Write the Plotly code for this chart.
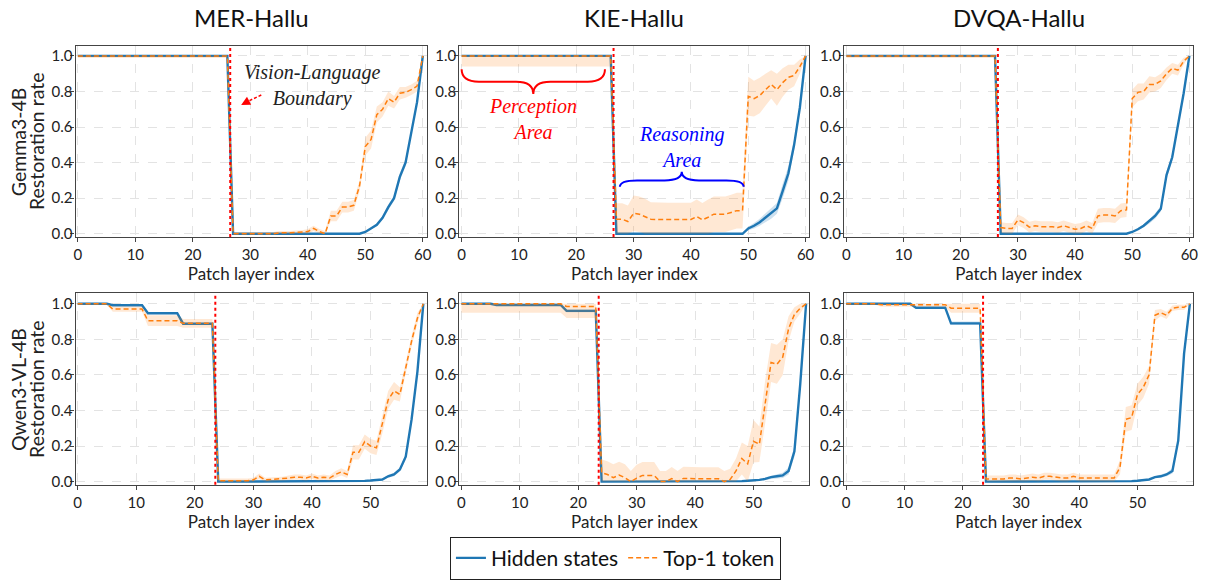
import plotly.graph_objects as go

# ---------------- data ----------------
gemma_layers = list(range(61))
qwen_layers = list(range(60))

gemma_mer_hidden = [1, 1, 1, 1, 1, 1, 1, 1, 1, 1,
                    1, 1, 1, 1, 1, 1, 1, 1, 1, 1,
                    1, 1, 1, 1, 1, 1, 1, 0, 0, 0,
                    0, 0, 0, 0, 0, 0, 0, 0, 0, 0,
                    0, 0, 0, 0, 0, 0, 0, 0, 0, 0,
                    0.01, 0.03, 0.05, 0.09, 0.15, 0.2, 0.32, 0.4, 0.57, 0.74,
                    1.0]
gemma_mer_hidden_std = [0, 0, 0, 0, 0, 0, 0, 0, 0, 0,
                        0, 0, 0, 0, 0, 0, 0, 0, 0, 0,
                        0, 0, 0, 0, 0, 0, 0, 0, 0, 0,
                        0, 0, 0, 0, 0, 0, 0, 0, 0, 0,
                        0, 0, 0, 0, 0, 0, 0, 0, 0, 0,
                        0.003, 0.005, 0.008, 0.01, 0.015, 0.015, 0.02, 0.02, 0.015, 0.01,
                        0]
gemma_mer_top1 = [1, 1, 1, 1, 1, 1, 1, 1, 1, 1,
                  1, 1, 1, 1, 1, 1, 1, 1, 1, 1,
                  1, 1, 1, 1, 1, 1, 1, 0.0, 0.0, 0.0,
                  0.0, 0.0, 0.0, 0.0, 0.0, 0.005, 0.003, 0.005, 0.008, 0.01,
                  0.012, 0.03, 0.012, 0.0, 0.1, 0.1, 0.15, 0.15, 0.16, 0.27,
                  0.49, 0.53, 0.67, 0.70, 0.76, 0.74, 0.79, 0.795, 0.81, 0.83,
                  1.0]
gemma_mer_top1_std = [0.012, 0.012, 0.012, 0.012, 0.012, 0.012, 0.012, 0.012, 0.012, 0.012,
                      0.012, 0.012, 0.012, 0.012, 0.012, 0.012, 0.012, 0.012, 0.012, 0.012,
                      0.012, 0.012, 0.012, 0.012, 0.012, 0.012, 0.012, 0.01, 0.01, 0.01,
                      0.01, 0.01, 0.01, 0.01, 0.01, 0.01, 0.01, 0.01, 0.01, 0.01,
                      0.015, 0.015, 0.015, 0.015, 0.03, 0.03, 0.03, 0.03, 0.03, 0.03,
                      0.05, 0.05, 0.045, 0.04, 0.04, 0.035, 0.035, 0.03, 0.03, 0.03,
                      0]

gemma_kie_hidden = [1, 1, 1, 1, 1, 1, 1, 1, 1, 1,
                    1, 1, 1, 1, 1, 1, 1, 1, 1, 1,
                    1, 1, 1, 1, 1, 1, 1, 0, 0, 0,
                    0, 0, 0, 0, 0, 0, 0, 0, 0, 0,
                    0, 0, 0, 0, 0, 0, 0, 0, 0, 0,
                    0.03, 0.045, 0.065, 0.09, 0.115, 0.143, 0.24, 0.34, 0.5, 0.71,
                    1.0]
gemma_kie_hidden_std = [0, 0, 0, 0, 0, 0, 0, 0, 0, 0,
                        0, 0, 0, 0, 0, 0, 0, 0, 0, 0,
                        0, 0, 0, 0, 0, 0, 0, 0, 0, 0,
                        0, 0, 0, 0, 0, 0, 0, 0, 0, 0,
                        0, 0, 0, 0, 0, 0, 0, 0, 0, 0,
                        0.01, 0.015, 0.02, 0.025, 0.03, 0.03, 0.04, 0.04, 0.03, 0.02,
                        0]
gemma_kie_top1 = [1, 1, 1, 1, 1, 1, 1, 1, 1, 1,
                  1, 1, 1, 1, 1, 1, 1, 1, 1, 1,
                  1, 1, 1, 1, 1, 1, 1, 0.082, 0.082, 0.069,
                  0.115, 0.11, 0.097, 0.082, 0.08, 0.08, 0.08, 0.08, 0.08, 0.08,
                  0.08, 0.097, 0.078, 0.093, 0.11, 0.11, 0.11, 0.12, 0.13, 0.13,
                  0.773, 0.76, 0.777, 0.81, 0.84, 0.81, 0.85, 0.88, 0.89, 0.94,
                  1.0]
gemma_kie_top1_std = [0.06, 0.06, 0.06, 0.06, 0.06, 0.06, 0.06, 0.06, 0.06, 0.06,
                      0.06, 0.06, 0.06, 0.06, 0.06, 0.06, 0.06, 0.06, 0.06, 0.06,
                      0.06, 0.06, 0.06, 0.06, 0.06, 0.06, 0.06, 0.09, 0.09, 0.09,
                      0.1, 0.1, 0.1, 0.095, 0.095, 0.095, 0.095, 0.095, 0.095, 0.095,
                      0.095, 0.095, 0.095, 0.1, 0.1, 0.1, 0.1, 0.1, 0.1, 0.1,
                      0.11, 0.1, 0.1, 0.09, 0.08, 0.09, 0.08, 0.07, 0.06, 0.04,
                      0]

gemma_dvqa_hidden = [1, 1, 1, 1, 1, 1, 1, 1, 1, 1,
                     1, 1, 1, 1, 1, 1, 1, 1, 1, 1,
                     1, 1, 1, 1, 1, 1, 1, 0, 0, 0,
                     0, 0, 0, 0, 0, 0, 0, 0, 0, 0,
                     0, 0, 0, 0, 0, 0, 0, 0, 0, 0,
                     0.01, 0.025, 0.045, 0.07, 0.1, 0.14, 0.33, 0.43, 0.6, 0.79,
                     1.0]
gemma_dvqa_hidden_std = [0, 0, 0, 0, 0, 0, 0, 0, 0, 0,
                         0, 0, 0, 0, 0, 0, 0, 0, 0, 0,
                         0, 0, 0, 0, 0, 0, 0, 0, 0, 0,
                         0, 0, 0, 0, 0, 0, 0, 0, 0, 0,
                         0, 0, 0, 0, 0, 0, 0, 0, 0, 0,
                         0.003, 0.006, 0.01, 0.012, 0.015, 0.015, 0.02, 0.02, 0.015, 0.01,
                         0]
gemma_dvqa_top1 = [1, 1, 1, 1, 1, 1, 1, 1, 1, 1,
                   1, 1, 1, 1, 1, 1, 1, 1, 1, 1,
                   1, 1, 1, 1, 1, 1, 1, 0.035, 0.03, 0.03,
                   0.078, 0.063, 0.037, 0.045, 0.04, 0.04, 0.04, 0.035, 0.045, 0.035,
                   0.025, 0.03, 0.045, 0.03, 0.1, 0.105, 0.105, 0.1, 0.13, 0.134,
                   0.76, 0.795, 0.80, 0.84, 0.84, 0.86, 0.9, 0.93, 0.92, 0.97,
                   1.0]
gemma_dvqa_top1_std = [0.012, 0.012, 0.012, 0.012, 0.012, 0.012, 0.012, 0.012, 0.012, 0.012,
                       0.012, 0.012, 0.012, 0.012, 0.012, 0.012, 0.012, 0.012, 0.012, 0.012,
                       0.012, 0.012, 0.012, 0.012, 0.012, 0.012, 0.012, 0.03, 0.03, 0.03,
                       0.03, 0.03, 0.03, 0.03, 0.03, 0.03, 0.03, 0.03, 0.03, 0.03,
                       0.03, 0.03, 0.03, 0.03, 0.04, 0.04, 0.04, 0.04, 0.04, 0.04,
                       0.05, 0.05, 0.045, 0.045, 0.04, 0.04, 0.035, 0.03, 0.03, 0.02,
                       0]

qwen_mer_hidden = [1, 1, 1, 1, 1, 1, 0.992, 0.992, 0.992, 0.992,
                   0.992, 0.992, 0.947, 0.947, 0.947, 0.947, 0.947, 0.947, 0.888, 0.888,
                   0.888, 0.888, 0.888, 0.888, 0, 0, 0, 0, 0, 0,
                   0, 0, 0, 0, 0, 0, 0, 0, 0, 0,
                   0, 0, 0, 0, 0, 0, 0, 0, 0.002, 0.004,
                   0.006, 0.008, 0.012, 0.03, 0.04, 0.068, 0.14, 0.35, 0.62, 1.0]
qwen_mer_hidden_std = [0, 0, 0, 0, 0, 0, 0, 0, 0, 0,
                       0, 0, 0.003, 0.003, 0.003, 0.003, 0.003, 0.003, 0.005, 0.005,
                       0.005, 0.005, 0.005, 0.005, 0, 0, 0, 0, 0, 0,
                       0, 0, 0, 0, 0, 0, 0, 0, 0, 0,
                       0, 0, 0, 0, 0, 0, 0, 0, 0, 0,
                       0, 0, 0.005, 0.008, 0.01, 0.01, 0.015, 0.02, 0.015, 0]
qwen_mer_top1 = [1, 1, 1, 1, 1, 1, 0.97, 0.97, 0.97, 0.97,
                 0.97, 0.97, 0.905, 0.905, 0.905, 0.905, 0.905, 0.905, 0.89, 0.89,
                 0.89, 0.89, 0.89, 0.89, 0.005, 0.005, 0.003, 0.003, 0.003, 0.005,
                 0.01, 0.03, 0.01, 0.012, 0.015, 0.015, 0.02, 0.025, 0.025, 0.02,
                 0.03, 0.02, 0.025, 0.02, 0.04, 0.055, 0.04, 0.165, 0.165, 0.225,
                 0.2, 0.19, 0.32, 0.46, 0.51, 0.49, 0.64, 0.79, 0.92, 1.0]
qwen_mer_top1_std = [0.005, 0.005, 0.005, 0.005, 0.005, 0.005, 0.015, 0.015, 0.015, 0.015,
                     0.015, 0.015, 0.03, 0.03, 0.03, 0.03, 0.03, 0.03, 0.025, 0.025,
                     0.025, 0.025, 0.025, 0.025, 0.012, 0.012, 0.012, 0.012, 0.012, 0.012,
                     0.012, 0.015, 0.012, 0.012, 0.012, 0.012, 0.015, 0.015, 0.015, 0.015,
                     0.015, 0.015, 0.015, 0.015, 0.02, 0.02, 0.02, 0.04, 0.04, 0.04,
                     0.04, 0.04, 0.05, 0.05, 0.05, 0.04, 0.03, 0.03, 0.03, 0]

qwen_kie_hidden = [1, 1, 1, 1, 1, 1, 0.993, 0.993, 0.993, 0.993,
                   0.993, 0.993, 0.993, 0.993, 0.993, 0.993, 0.993, 0.993, 0.96, 0.96,
                   0.96, 0.96, 0.96, 0.96, 0, 0, 0, 0, 0, 0,
                   0, 0, 0, 0, 0, 0, 0, 0, 0, 0,
                   0, 0, 0, 0, 0, 0, 0, 0.002, 0.003, 0.005,
                   0.006, 0.01, 0.015, 0.025, 0.03, 0.035, 0.06, 0.17, 0.55, 1.0]
qwen_kie_hidden_std = [0, 0, 0, 0, 0, 0, 0.005, 0.005, 0.005, 0.005,
                       0.005, 0.005, 0.005, 0.005, 0.005, 0.005, 0.005, 0.005, 0.008, 0.008,
                       0.008, 0.008, 0.008, 0.008, 0, 0, 0, 0, 0, 0,
                       0, 0, 0, 0, 0, 0, 0, 0, 0, 0,
                       0, 0, 0, 0, 0, 0, 0, 0, 0, 0,
                       0, 0.005, 0.008, 0.01, 0.012, 0.015, 0.02, 0.03, 0.03, 0]
qwen_kie_top1 = [1, 1, 1, 1, 1, 1, 1, 1, 1, 1,
                 1, 1, 1, 1, 1, 1, 1, 1, 0.985, 0.985,
                 0.985, 0.985, 0.985, 0.985, 0.05, 0.04, 0.022, 0.037, 0.022, 0.0,
                 0.02, 0.035, 0.035, 0.035, 0.0, 0.0, 0.017, 0.0, 0.018, 0.016,
                 0.016, 0.016, 0.016, 0.016, 0.016, 0.0, 0.012, 0.06, 0.13, 0.1,
                 0.227, 0.21, 0.45, 0.67, 0.66, 0.70, 0.86, 0.94, 0.975, 1.0]
qwen_kie_top1_std = [0.05, 0.05, 0.05, 0.05, 0.05, 0.05, 0.05, 0.05, 0.05, 0.05,
                     0.05, 0.05, 0.05, 0.05, 0.05, 0.05, 0.05, 0.05, 0.065, 0.065,
                     0.065, 0.065, 0.065, 0.065, 0.075, 0.075, 0.075, 0.075, 0.075, 0.06,
                     0.075, 0.075, 0.075, 0.075, 0.06, 0.06, 0.065, 0.06, 0.065, 0.065,
                     0.065, 0.065, 0.065, 0.065, 0.065, 0.06, 0.06, 0.07, 0.09, 0.1,
                     0.12, 0.1, 0.12, 0.11, 0.11, 0.1, 0.07, 0.04, 0.03, 0]

qwen_dvqa_hidden = [1, 1, 1, 1, 1, 1, 1, 1, 1, 1,
                    1, 1, 0.978, 0.978, 0.978, 0.978, 0.978, 0.978, 0.89, 0.89,
                    0.89, 0.89, 0.89, 0.89, 0, 0, 0, 0, 0, 0,
                    0, 0, 0, 0, 0, 0, 0, 0, 0, 0,
                    0, 0, 0, 0, 0, 0, 0, 0, 0, 0.003,
                    0.005, 0.008, 0.012, 0.025, 0.03, 0.04, 0.06, 0.23, 0.72, 1.0]
qwen_dvqa_hidden_std = [0, 0, 0, 0, 0, 0, 0, 0, 0, 0,
                        0, 0, 0.004, 0.004, 0.004, 0.004, 0.004, 0.004, 0.01, 0.01,
                        0.01, 0.01, 0.01, 0.01, 0, 0, 0, 0, 0, 0,
                        0, 0, 0, 0, 0, 0, 0, 0, 0, 0,
                        0, 0, 0, 0, 0, 0, 0, 0, 0, 0,
                        0, 0, 0, 0.005, 0.008, 0.01, 0.015, 0.02, 0.02, 0]
qwen_dvqa_top1 = [1, 1, 1, 1, 1, 1, 0.995, 0.995, 0.995, 0.995,
                  0.995, 0.995, 0.995, 0.995, 0.995, 0.995, 0.995, 0.995, 0.975, 0.975,
                  0.975, 0.975, 0.975, 0.975, 0.015, 0.015, 0.015, 0.015, 0.02, 0.02,
                  0.015, 0.02, 0.025, 0.02, 0.03, 0.03, 0.025, 0.02, 0.02, 0.03,
                  0.02, 0.02, 0.02, 0.02, 0.02, 0.02, 0.02, 0.08, 0.35, 0.36,
                  0.49, 0.53, 0.6, 0.935, 0.95, 0.935, 0.975, 0.98, 0.98, 1.0]
qwen_dvqa_top1_std = [0.005, 0.005, 0.005, 0.005, 0.005, 0.005, 0.012, 0.012, 0.012, 0.012,
                      0.012, 0.012, 0.012, 0.012, 0.012, 0.012, 0.012, 0.012, 0.025, 0.025,
                      0.025, 0.025, 0.025, 0.025, 0.02, 0.02, 0.02, 0.02, 0.02, 0.02,
                      0.02, 0.02, 0.02, 0.02, 0.02, 0.02, 0.02, 0.02, 0.02, 0.02,
                      0.02, 0.02, 0.02, 0.02, 0.02, 0.02, 0.02, 0.04, 0.07, 0.07,
                      0.06, 0.06, 0.05, 0.03, 0.02, 0.02, 0.015, 0.015, 0.015, 0]

dataset_titles = ["MER-Hallu", "KIE-Hallu", "DVQA-Hallu"]
model_labels = ["Gemma3-4B", "Qwen3-VL-4B"]
y_label = "Restoration rate"
boundaries = [26.5, 23.5]
xtick_top = [0, 10, 20, 30, 40, 50, 60]
xtick_bottom = [0, 10, 20, 30, 40, 50]
ytick_vals = [0.0, 0.2, 0.4, 0.6, 0.8, 1.0]

panels = [
    (gemma_layers, gemma_mer_hidden, gemma_mer_hidden_std, gemma_mer_top1, gemma_mer_top1_std),
    (gemma_layers, gemma_kie_hidden, gemma_kie_hidden_std, gemma_kie_top1, gemma_kie_top1_std),
    (gemma_layers, gemma_dvqa_hidden, gemma_dvqa_hidden_std, gemma_dvqa_top1, gemma_dvqa_top1_std),
    (qwen_layers, qwen_mer_hidden, qwen_mer_hidden_std, qwen_mer_top1, qwen_mer_top1_std),
    (qwen_layers, qwen_kie_hidden, qwen_kie_hidden_std, qwen_kie_top1, qwen_kie_top1_std),
    (qwen_layers, qwen_dvqa_hidden, qwen_dvqa_hidden_std, qwen_dvqa_top1, qwen_dvqa_top1_std),
]

# ---------------- style / layout ----------------
W, H = 1214, 584
BLUE = "#1f77b4"
ORANGE = "#ff7f0e"
FONT = "Lato"
SERIF = "Liberation Serif"

col_px = [(74, 427), (460, 812), (847, 1198)]
row_px = [(46, 239), (296, 489)]

fig = go.Figure()


def band(m, s):
    up = [min(1.0, a + b) for a, b in zip(m, s)]
    lo = [max(0.0, a - b) for a, b in zip(m, s)]
    return up, lo


for i, (xs, hid, hstd, top, tstd) in enumerate(panels):
    n = i + 1
    suffix = "" if n == 1 else str(n)
    xa, ya = "x" + suffix, "y" + suffix
    up, lo = band(hid, hstd)
    fig.add_trace(go.Scatter(x=xs, y=up, mode="lines", line=dict(width=0), showlegend=False,
                             hoverinfo="skip", xaxis=xa, yaxis=ya))
    fig.add_trace(go.Scatter(x=xs, y=lo, mode="lines", line=dict(width=0), fill="tonexty",
                             fillcolor="rgba(31,119,180,0.22)", showlegend=False,
                             hoverinfo="skip", xaxis=xa, yaxis=ya))
    fig.add_trace(go.Scatter(x=xs, y=hid, mode="lines", name="Hidden states",
                             line=dict(color=BLUE, width=2.4), showlegend=(i == 0),
                             legendrank=1, xaxis=xa, yaxis=ya))
    up, lo = band(top, tstd)
    fig.add_trace(go.Scatter(x=xs, y=up, mode="lines", line=dict(width=0), showlegend=False,
                             hoverinfo="skip", xaxis=xa, yaxis=ya))
    fig.add_trace(go.Scatter(x=xs, y=lo, mode="lines", line=dict(width=0), fill="tonexty",
                             fillcolor="rgba(255,127,14,0.18)", showlegend=False,
                             hoverinfo="skip", xaxis=xa, yaxis=ya))
    fig.add_trace(go.Scatter(x=xs, y=top, mode="lines", name="Top-1 token",
                             line=dict(color=ORANGE, width=1.5, dash="5px,3px"),
                             showlegend=(i == 0), legendrank=2, xaxis=xa, yaxis=ya))

    r, c = divmod(i, 3)
    x0p, x1p = col_px[c]
    y0p, y1p = row_px[r]
    axis_common = dict(showline=True, mirror=True, linecolor="#444", linewidth=1.3,
                       ticks="outside", ticklen=4, tickcolor="#444", tickwidth=1,
                       showgrid=True, gridcolor="#e3e3e3", griddash="dash", gridwidth=1,
                       zeroline=False, tickfont=dict(family=FONT, size=15, color="#222"))
    fig.update_layout({
        "xaxis" + suffix: dict(domain=[x0p / W, x1p / W], anchor=ya,
                               range=[-0.4, 60.65] if r == 0 else [-0.35, 59.55],
                               tickvals=xtick_top if r == 0 else xtick_bottom,
                               title=dict(text="Patch layer index", standoff=2,
                                          font=dict(family=FONT, size=17, color="#222")),
                               **axis_common),
        "yaxis" + suffix: dict(domain=[1 - y1p / H, 1 - y0p / H], anchor=xa,
                               range=[-0.018, 1.058], tickvals=ytick_vals, tickformat=".1f",
                               ticklabelstandoff=-5, **axis_common),
    })
    fig.add_shape(type="line", xref=xa, yref=ya + " domain", x0=boundaries[r], x1=boundaries[r],
                  y0=0, y1=1, line=dict(color="red", width=2, dash="dot"), layer="above")

# column titles
for c, t in enumerate(dataset_titles):
    x0p, x1p = col_px[c]
    fig.add_annotation(text=t, xref="paper", yref="paper", x=(x0p + x1p) / 2 / W, y=1 - 18 / H,
                       showarrow=False, xanchor="center", yanchor="middle",
                       font=dict(family=FONT, size=24, color="#111"))

# row labels (two lines, rotated)
for r, m in enumerate(model_labels):
    y0p, y1p = row_px[r]
    yc = 1 - (y0p + y1p) / 2 / H
    fig.add_annotation(text=m, xref="paper", yref="paper", x=16 / W, y=yc, textangle=-90,
                       showarrow=False, xanchor="center", yanchor="middle",
                       font=dict(family=FONT, size=19.5, color="#222"))
    fig.add_annotation(text=y_label, xref="paper", yref="paper", x=34 / W, y=yc, textangle=-90,
                       showarrow=False, xanchor="center", yanchor="middle",
                       font=dict(family=FONT, size=19.5, color="#222"))


def brace_path(x0, x1, y_end, y_band, y_tip, q):
    xm = (x0 + x1) / 2
    return (f"M {x0},{y_end} Q {x0},{y_band} {x0 + q},{y_band} L {xm - q},{y_band} "
            f"Q {xm},{y_band} {xm},{y_tip} Q {xm},{y_band} {xm + q},{y_band} "
            f"L {x1 - q},{y_band} Q {x1},{y_band} {x1},{y_end}")


# Panel 1 annotation: Vision-Language Boundary
fig.add_annotation(text="<i>Vision-Language<br>Boundary</i>", xref="x", yref="y", x=40.8, y=0.835,
                   showarrow=False, font=dict(family=SERIF, size=20, color="#222"),
                   align="center")
fig.add_shape(type="line", xref="x", yref="y", x0=31.9, y0=0.78, x1=29.6, y1=0.745,
              line=dict(color="red", width=1.5, dash="3px,2px"))
fig.add_annotation(x=28.4, y=0.724, ax=29.8, ay=0.748, xref="x", yref="y", axref="x", ayref="y",
                   text="", showarrow=True, arrowhead=2, arrowsize=1.2, arrowwidth=1.5,
                   arrowcolor="red")

# Panel 2 annotations: braces and area labels
fig.add_shape(type="path", xref="x2", yref="y2",
              path=brace_path(0.0, 25.0, 0.925, 0.855, 0.786, 3.0),
              line=dict(color="red", width=2))
fig.add_annotation(text="<i>Perception<br>Area</i>", xref="x2", yref="y2", x=12.5, y=0.645,
                   showarrow=False, font=dict(family=SERIF, size=20, color="red"), align="center")
fig.add_shape(type="path", xref="x2", yref="y2",
              path=brace_path(27.6, 49.2, 0.264, 0.30, 0.348, 3.0),
              line=dict(color="blue", width=2))
fig.add_annotation(text="<i>Reasoning<br>Area</i>", xref="x2", yref="y2", x=38.3, y=0.487,
                   showarrow=False, font=dict(family=SERIF, size=20, color="blue"), align="center")

fig.update_layout(
    width=W, height=H,
    margin=dict(l=0, r=0, t=0, b=0),
    paper_bgcolor="white", plot_bgcolor="white",
    showlegend=True,
    legend=dict(orientation="h", traceorder="normal", x=617 / W, xanchor="center",
                y=1 - 563 / H, yanchor="middle", itemwidth=30,
                bordercolor="#222", borderwidth=1, bgcolor="white",
                font=dict(family=FONT, size=21, color="#111")),
)

fig.write_html("out.html", config={"displayModeBar": False},
               post_script="document.body.style.margin='0';")
